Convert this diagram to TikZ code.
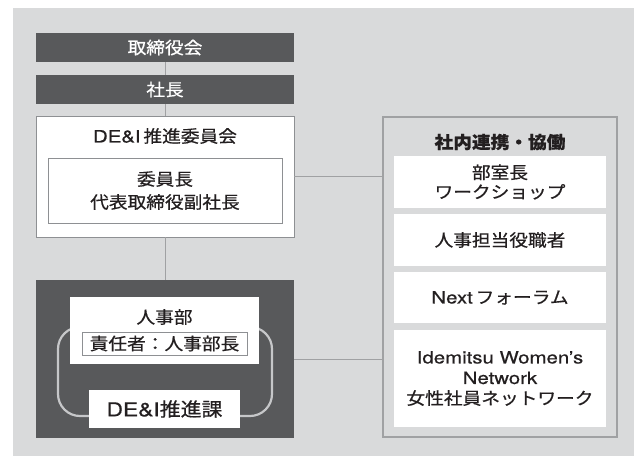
\documentclass[tikz,border=0pt]{standalone}
\usepackage{fontspec}
\newfontfamily\jpfont[FakeStretch=1.1,FakeBold=0.6]{Noto Sans CJK JP}
\newfontfamily\latfont[FakeStretch=1.2,FakeBold=0.6]{TeX Gyre Heros}
\newcommand\lat[1]{{\latfont #1}}
\usetikzlibrary{calc,positioning}
\definecolor{panel}{HTML}{D9DADB}
\definecolor{dark}{HTML}{58595B}
\definecolor{ink}{HTML}{231F20}
\definecolor{line}{HTML}{A0A1A3}
\definecolor{frame}{HTML}{8E9093}
\definecolor{loop}{HTML}{C6C7C9}

\begin{document}
\begin{tikzpicture}[x=1pt,y=-1pt,
  txt/.style={text=ink,font=\jpfont\fontsize{17}{23}\selectfont,align=center,inner sep=0pt},
  darkbox/.style={fill=dark,text=white,font=\jpfont\fontsize{17}{20}\selectfont,
    minimum width=258pt,minimum height=29pt,inner sep=0pt},
  whitebox/.style={txt,fill=white,draw=frame,line width=.9pt,minimum width=258pt},
  innerbox/.style={txt,fill=white,draw=frame,line width=.8pt},
  plainbox/.style={txt,fill=white},
  item/.style={txt,fill=white,minimum width=212pt,font=\jpfont\fontsize{17}{19.5}\selectfont},
  link/.style={draw=line,line width=1pt},
  loopline/.style={draw=loop,line width=2.2pt,rounded corners=22pt}
]
\useasboundingbox (0,0) rectangle (634,456);
\fill[panel] (13,8) rectangle (634,456);
% left column
\node[darkbox] (board) at (165,47.5) {取締役会};
\node[darkbox] (president) at (165,89.5) {社長};
\node[whitebox,minimum height=121pt] (committee) at (165,176.5) {};
\node[txt] (committeetitle) at (165,136) {\lat{DE\&I}\,推進委員会};
\node[innerbox,minimum width=234pt,minimum height=65pt] (chair) at (165,190.5)
  {委員長\\代表取締役副社長};
\node[fill=dark,minimum width=258pt,minimum height=158pt] (hr) at (165,359) {};
\draw[loopline] (58,327) rectangle (272,416);
\node[plainbox,minimum width=189pt,minimum height=67pt] (hrdept) at (164.5,330.5) {};
\node[txt] (hrtitle) at (164.5,317) {人事部};
\node[innerbox,minimum width=165pt,minimum height=23pt] (head) at (164.5,343.5)
  {責任者：人事部長};
\node[plainbox,minimum width=151pt,minimum height=38pt,
  font=\jpfont\fontsize{19}{22}\selectfont] (promo) at (164.5,409)
  {\lat{DE\&I}推進課};
% right column
\node[fill=panel,draw=line,line width=1.1pt,minimum width=234pt,minimum height=320pt]
  (collab) at (500,277) {};
\node[txt,font=\jpfont\bfseries\fontsize{17}{20}\selectfont] (collabtitle) at (500,142)
  {社内連携・協働};
\node[item,minimum height=52pt] (workshop) at (500,182) {部室長\\ワークショップ};
\node[item,minimum height=52pt] (officers) at (500,240) {人事担当役職者};
\node[item,minimum height=51pt] (forum) at (500,297.5) {\lat{Next}\,フォーラム};
\node[item,minimum height=97pt,font=\jpfont\fontsize{17}{20.5}\selectfont] (network)
  at (500,378.5) {\lat{Idemitsu Women’s}\\\lat{Network}\\女性社員ネットワーク};
% connectors
\draw[link] (board) -- (president);
\draw[link] (president) -- (committee);
\draw[link] (committee) -- (hr);
\draw[link] (committee.east) -- (committee.east -| collab.west);
\draw[link] (hr.east) -- (hr.east -| collab.west);
\end{tikzpicture}
\end{document}
